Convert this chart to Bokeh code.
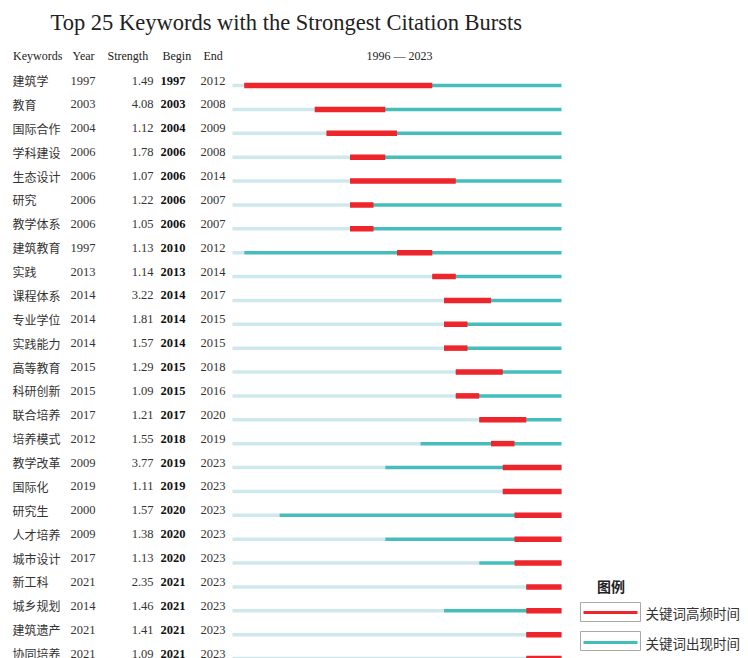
from bokeh.plotting import figure
from bokeh.models import Range1d, ColumnDataSource
from bokeh.core.properties import value
from bokeh.embed import file_html
from bokeh.resources import INLINE

# ---------------- data ----------------
keywords = ["建筑学", "教育", "国际合作", "学科建设", "生态设计", "研究", "教学体系",
            "建筑教育", "实践", "课程体系", "专业学位", "实践能力", "高等教育", "科研创新",
            "联合培养", "培养模式", "教学改革", "国际化", "研究生", "人才培养", "城市设计",
            "新工科", "城乡规划", "建筑遗产", "协同培养"]
years = [1997, 2003, 2004, 2006, 2006, 2006, 2006, 1997, 2013, 2014, 2014, 2014, 2015,
         2015, 2017, 2012, 2009, 2019, 2000, 2009, 2017, 2021, 2014, 2021, 2021]
strength = [1.49, 4.08, 1.12, 1.78, 1.07, 1.22, 1.05, 1.13, 1.14, 3.22, 1.81, 1.57, 1.29,
            1.09, 1.21, 1.55, 3.77, 1.11, 1.57, 1.38, 1.13, 2.35, 1.46, 1.41, 1.09]
begin = [1997, 2003, 2004, 2006, 2006, 2006, 2006, 2010, 2013, 2014, 2014, 2014, 2015,
         2015, 2017, 2018, 2019, 2019, 2020, 2020, 2020, 2021, 2021, 2021, 2021]
end = [2012, 2008, 2009, 2008, 2014, 2007, 2007, 2012, 2014, 2017, 2015, 2015, 2018,
       2016, 2020, 2019, 2023, 2023, 2023, 2023, 2023, 2023, 2023, 2023, 2023]
start_year = 1996
end_year = 2023
title = "Top 25 Keywords with the Strongest Citation Bursts"
headers = ["Keywords", "Year", "Strength", "Begin", "End"]
legend_labels = ["关键词高频时间", "关键词出现时间"]
legend_title = "图例"

# ---------------- layout ----------------
W, H = 748, 658
PX0, PXW = 232.0, 11.75        # pixel of start_year, pixels per year
ROW0, ROWH = 85.0, 23.875      # pixel of first row, row spacing

RED = "#EE262B"
TEAL = "#45BDBB"
LIGHT = "#CFE8EB"
TXT = "#333333"
SERIF = value("Liberation Serif")
CJK = value("Noto Sans CJK SC")

p = figure(width=W, height=H, output_backend="svg", toolbar_location=None,
           x_range=Range1d(0, W), y_range=Range1d(H, 0), min_border=0)
p.axis.visible = False
p.grid.visible = False
p.outline_line_color = None
p.background_fill_color = "white"
p.border_fill_color = "white"

p.extra_x_ranges = {"yr": Range1d(start_year - PX0 / PXW, start_year + (W - PX0) / PXW)}
p.extra_y_ranges = {"row": Range1d((H - ROW0) / ROWH, -ROW0 / ROWH)}

n = len(keywords)
rows = list(range(n))
src = ColumnDataSource(dict(
    row=rows, kw=keywords, year=years, ystr=[str(v) for v in years],
    strength=["%.2f" % v for v in strength],
    begin=begin, bstr=[str(v) for v in begin],
    end=end, estr=[str(v) for v in end],
    end1=[e + 1 for e in end],
    s0=[start_year] * n, s1=[end_year + 1] * n,
))

# timeline bars
p.segment(x0="s0", x1="year", y0="row", y1="row", source=src, line_color=LIGHT,
          line_width=3.5, line_cap="butt", x_range_name="yr", y_range_name="row")
p.segment(x0="year", x1="s1", y0="row", y1="row", source=src, line_color=TEAL,
          line_width=3.5, line_cap="butt", x_range_name="yr", y_range_name="row")
p.segment(x0="begin", x1="end1", y0="row", y1="row", source=src, line_color=RED,
          line_width=5.5, line_cap="butt", x_range_name="yr", y_range_name="row")

# table columns
common = dict(source=src, y="row", y_range_name="row", y_offset=-5,
              text_baseline="middle", text_font_size="12.5px", text_color=TXT)
p.text(x=12, text="kw", text_font=CJK, text_align="left",
       **{**common, "text_font_size": "12px"})
p.text(x=70, text="ystr", text_font=SERIF, text_align="left", **common)
p.text(x=153, text="strength", text_font=SERIF, text_align="right", **common)
p.text(x=160, text="bstr", text_font=SERIF, text_align="left", text_font_style="bold",
       **{**common, "text_color": "#111111"})
p.text(x=200, text="estr", text_font=SERIF, text_align="left", **common)

# headers
p.text(x=[12.5, 72, 107, 162, 203], y=[55] * 5, text=headers, text_font=SERIF,
       text_font_size="12px", text_baseline="middle", text_align="left", text_color="#222222")
p.text(x=[399], y=[55], text=["%d \u2014 %d" % (start_year, end_year)], text_font=SERIF,
       text_font_size="12px", text_baseline="middle", text_align="center", text_color="#222222")

# title
p.text(x=[50], y=[22], text=[title], text_font=SERIF, text_font_size="22.5px",
       text_baseline="middle", text_align="left", text_color="#222222")

# legend
p.text(x=[610.5], y=[585], text=[legend_title], text_font=CJK, text_font_size="14px",
       text_font_style="bold", text_baseline="middle", text_align="center", text_color="#222222")
p.quad(left=[580, 580], right=[640, 640], top=[602, 631], bottom=[621, 650],
       fill_color="white", line_color="#A8A8A8", line_width=1)
p.segment(x0=[583, 583], x1=[637, 637], y0=[612, 642], y1=[612, 642],
          line_color=[RED, TEAL], line_width=3, line_cap="butt")
p.text(x=[645, 645], y=[612, 642], text=legend_labels, text_font=CJK, text_font_size="13.5px",
       text_baseline="middle", text_align="left", text_color="#333333")

open("out.html", "w").write(file_html(p, INLINE))
